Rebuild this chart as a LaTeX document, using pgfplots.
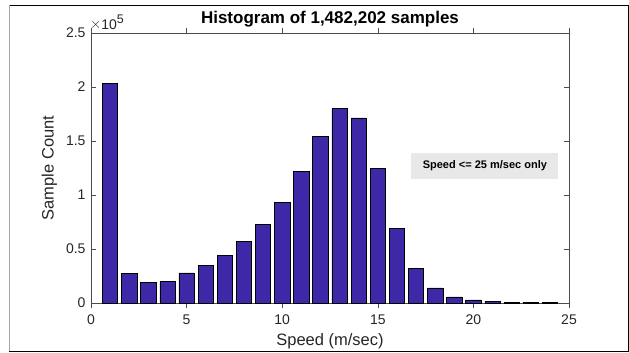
\documentclass[border=0pt]{standalone}
\usepackage{pgfplots}
\pgfplotsset{compat=1.18}
\usepackage{fontspec}
\setmainfont{Liberation Sans}
\definecolor{barblue}{RGB}{62,40,168}
\definecolor{axgray}{RGB}{38,38,38}
\begin{document}
\begin{tikzpicture}
\begin{axis}[
  name=ax,
  scale only axis, width=478pt, height=270pt,
  xmin=0, xmax=25, ymin=0, ymax=250000,
  xtick={0,5,10,15,20,25},
  ytick={0,50000,100000,150000,200000,250000},
  yticklabels={0,0.5,1,1.5,2,2.5},
  scaled y ticks=false,
  tick align=inside,
  xtick pos=both, ytick pos=both,
  major tick length=5pt,
  tick style={gray!60!black, line width=0.5pt},
  axis line style={gray!60!black, line width=0.6pt},
  ticklabel style={font=\fontsize{14}{16}\selectfont, text=axgray},
  /pgf/number format/assume math mode=true,
  xticklabel style={yshift=-3pt},
  yticklabel style={xshift=-2pt},
  xlabel={Speed (m/sec)}, ylabel={Sample Count},
  label style={font=\fontsize{16.5}{18}\selectfont, text=axgray},
  xlabel style={yshift=-2pt},
  ylabel style={yshift=2pt},
  title={Histogram of 1,482,202 samples},
  title style={font=\bfseries\fontsize{17}{19}\selectfont, text=black, yshift=-4pt},
  ybar, bar width=0.8,
]
\addplot[fill=barblue, draw=black, line width=0.6pt] coordinates {
(1,203700) (2,27200) (3,18900) (4,20100) (5,27800) (6,34600) (7,44200) (8,56800)
(9,72600) (10,93000) (11,121700) (12,154600) (13,180000) (14,171300) (15,124400)
(16,69200) (17,31800) (18,13900) (19,5600) (20,2800) (21,1600) (22,600) (23,400) (24,300)
};
\node[fill=gray!18, font=\bfseries\fontsize{11}{13}\selectfont, minimum width=147pt, minimum height=26pt, inner sep=0pt] at (axis cs:20.6,127000) {Speed <= 25 m/sec only};
\end{axis}
\node[anchor=south west, font=\fontsize{14}{16}\selectfont, text=axgray, inner sep=0pt] at ([xshift=-1pt,yshift=3pt]ax.north west) {\raisebox{0.5pt}{$\times$}10\raisebox{5.5pt}{\fontsize{12.5}{13}\selectfont 5}};
\draw[black, line width=0.8pt] ([xshift=-82pt,yshift=28pt]ax.north west) -- ([xshift=59pt,yshift=28pt]ax.north east) -- ([xshift=59pt,yshift=-48pt]ax.south east) -- ([xshift=-82pt,yshift=-48pt]ax.south west);
\draw[gray!70, line width=0.8pt] ([xshift=-82pt,yshift=28pt]ax.north west) -- ([xshift=-82pt,yshift=-48pt]ax.south west);
\useasboundingbox ([xshift=-91pt,yshift=-49pt]ax.south west) rectangle ([xshift=60pt,yshift=33pt]ax.north east);
\end{tikzpicture}
\end{document}
